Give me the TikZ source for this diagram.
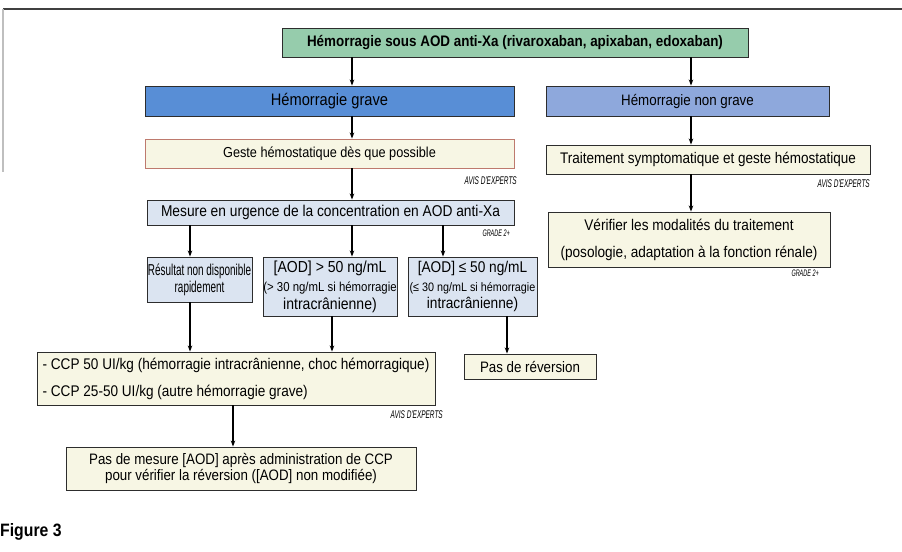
\documentclass[tikz,border=0pt]{standalone}
\usepackage{fontspec}
\setmainfont{Liberation Sans}[FakeStretch=0.88]
\newfontfamily\condfont{Liberation Sans}[FakeStretch=0.63]
\newfontfamily\tagfont{Liberation Sans Italic}[FakeStretch=0.58]
\usetikzlibrary{arrows.meta}

\definecolor{topgreen}{RGB}{150,204,172}
\definecolor{gravblue}{RGB}{88,142,214}
\definecolor{nongravblue}{RGB}{142,168,220}
\definecolor{paleblue}{RGB}{219,228,241}
\definecolor{beige}{RGB}{247,246,228}
\definecolor{brownline}{RGB}{190,122,110}
\definecolor{edge}{RGB}{45,45,45}

\newcommand{\fs}[2]{\fontsize{#1}{#2}\selectfont}

\tikzset{
  box/.style={draw=edge, line width=0.9bp, rectangle, inner sep=2bp, align=center,
    font=\fs{15.4}{18}},
  bluebox/.style={box, fill=paleblue},
  beigebox/.style={box, fill=beige},
  tag/.style={anchor=east, inner sep=0pt, font=\tagfont\fs{11.2}{12}},
  gradetag/.style={tag, font=\tagfont\fs{9.5}{10}},
  arr/.style={-{Stealth[length=6bp,width=4.5bp]}, line width=1.4bp},
}

\begin{document}
\begin{tikzpicture}[x=1bp, y=-1bp]
\useasboundingbox (0,0) rectangle (902,552);
% frame lines
\draw[black!75, line width=1.8bp] (3,9) -- (902,9);
\draw[black!25, line width=1.5bp] (3,9) -- (3,172);

% columns for the arrows
\coordinate (xa) at (352,0);
\coordinate (xb) at (691,0);
\coordinate (xc) at (190,0);
\coordinate (xd) at (443,0);
\coordinate (xe) at (332,0);
\coordinate (xf) at (507,0);
\coordinate (xg) at (233,0);

\node[box, fill=topgreen, minimum width=466bp, minimum height=29bp, font=\fs{15.3}{18}\bfseries]
  (top) at (515,42.5) {Hémorragie sous AOD anti-Xa (rivaroxaban, apixaban, edoxaban)};

\node[box, fill=gravblue, minimum width=369bp, minimum height=30bp, font=\fs{16.7}{19}] (grave) at (329.5,101) {Hémorragie grave};
\node[box, fill=nongravblue, minimum width=283bp, minimum height=30bp, font=\fs{15.2}{18}] (nongrave) at (687.5,101) {Hémorragie non grave};

\node[beigebox, draw=brownline, minimum width=369bp, minimum height=29bp, font=\fs{14.5}{17}] (geste) at (329.5,153.5) {Geste hémostatique dès que possible};
\node[tag] (avisa) at (517,181) {AVIS D'EXPERTS};

\node[beigebox, minimum width=324bp, minimum height=29bp] (traitement) at (708,159.5) {Traitement symptomatique et geste hémostatique};
\node[tag] (avisb) at (870,184) {AVIS D'EXPERTS};

\node[beigebox, minimum width=282bp, minimum height=55bp, font=\fs{15.5}{27}] (verifier) at (689,239.5)
  {Vérifier les modalités du traitement\\(posologie, adaptation à la fonction rénale)};
\node[gradetag] (gradeb) at (819,273) {GRADE 2+};

\node[bluebox, minimum width=367bp, minimum height=25bp, font=\fs{15.7}{18}] (mesure) at (330.5,212.5) {Mesure en urgence de la concentration en AOD anti-Xa};
\node[gradetag] (gradea) at (510,233) {GRADE 2+};

\node[bluebox, minimum width=105bp, minimum height=45bp, inner sep=0pt, font=\condfont\fs{15.8}{17}] (resultat) at (199.5,279.5) {Résultat non disponible\\rapidement};
\node[bluebox, minimum width=134bp, minimum height=59bp, inner sep=0pt, font=\fs{16}{18}] (sup) at (330,286.5)
  {[AOD] > 50 ng/mL\\[1bp]\fs{13}{14}(> 30 ng/mL si hémorragie\\intracrânienne)};
\node[bluebox, minimum width=129bp, minimum height=59bp, inner sep=0pt, font=\fs{15.6}{18}] (inf) at (472.5,286.5)
  {[AOD] ≤ 50 ng/mL\\[1bp]\fs{12.3}{14}(≤ 30 ng/mL si hémorragie\\intracrânienne)};

\node[beigebox, minimum width=398bp, minimum height=53bp, align=left, inner xsep=2.5bp, font=\fs{15.5}{27}] (ccp) at (236,378.5)
  {- CCP 50 UI/kg (hémorragie intracrânienne, choc hémorragique)\\- CCP 25-50 UI/kg (autre hémorragie grave)};
\node[tag] (avisc) at (443,415) {AVIS D'EXPERTS};

\node[beigebox, minimum width=132bp, minimum height=25bp, font=\fs{15.2}{18}] (pasrev) at (530,366.5) {Pas de réversion};

\node[beigebox, minimum width=350bp, minimum height=43bp, font=\fs{15.2}{16}] (pasmes) at (241,468.5)
  {Pas de mesure [AOD] après administration de CCP\\pour vérifier la réversion ([AOD] non modifiée)};

\node[anchor=west, inner sep=0pt, font=\fs{18}{20}\bfseries] (fig) at (0,532) {Figure 3};

% arrows
\draw[arr] (top.south -| xa) -- (grave.north -| xa);
\draw[arr] (top.south -| xb) -- (nongrave.north -| xb);
\draw[arr] (grave.south -| xa) -- (geste.north -| xa);
\draw[arr] (geste.south -| xa) -- (mesure.north -| xa);
\draw[arr] (nongrave.south -| xb) -- (traitement.north -| xb);
\draw[arr] (traitement.south -| xb) -- (verifier.north -| xb);
\draw[arr] (mesure.south -| xc) -- (resultat.north -| xc);
\draw[arr] (mesure.south -| xa) -- (sup.north -| xa);
\draw[arr] (mesure.south -| xd) -- (inf.north -| xd);
\draw[arr] (resultat.south -| xc) -- (ccp.north -| xc);
\draw[arr] (sup.south -| xe) -- (ccp.north -| xe);
\draw[arr] (inf.south -| xf) -- (pasrev.north -| xf);
\draw[arr] (ccp.south -| xg) -- (pasmes.north -| xg);
\end{tikzpicture}
\end{document}
